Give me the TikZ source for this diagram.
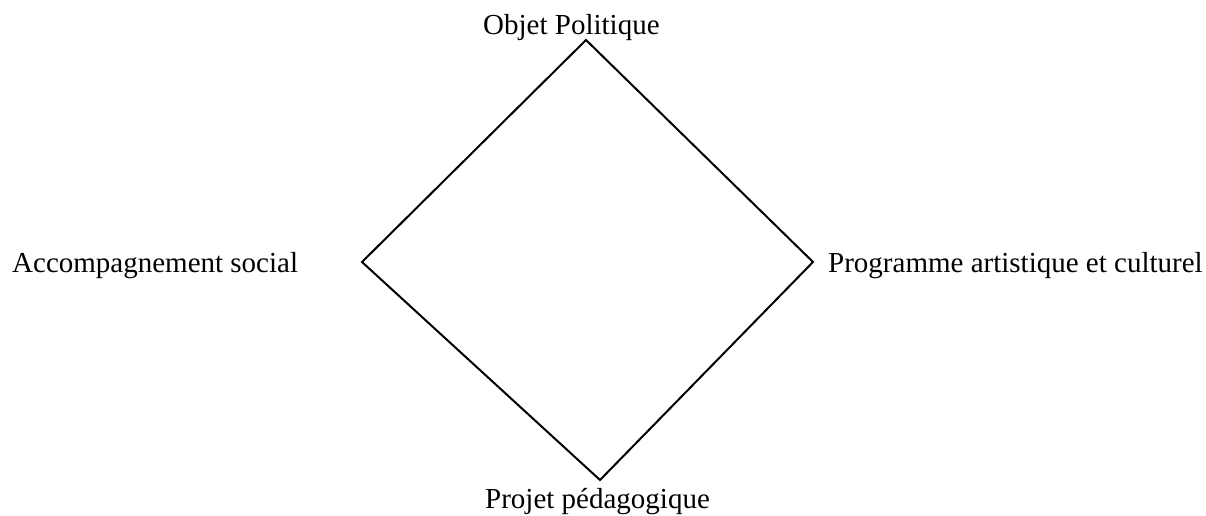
\documentclass[tikz,border=0pt]{standalone}
\usepackage{fontspec}
\setmainfont{Liberation Serif}
\begin{document}
\begin{tikzpicture}[x=1pt,y=1pt,
  lbl/.style={inner sep=0pt,anchor=base west,font=\fontsize{29}{34}\selectfont},
  edge/.style={line width=2pt,line join=miter}]
\useasboundingbox (0,0) rectangle (1206,515);
\coordinate (T) at (586,475);
\coordinate (L) at (362,253);
\coordinate (R) at (813,253);
\coordinate (B) at (600,35);
\draw[edge] (T) -- (R) -- (B) -- (L) -- cycle;
\node[lbl] (top) at (483,480) {Objet Politique};
\node[lbl] (left) at (12,243) {Accompagnement social};
\node[lbl] (right) at (828,243) {Programme artistique et culturel};
\node[lbl] (bottom) at (485,7) {Projet pédagogique};
\end{tikzpicture}
\end{document}
